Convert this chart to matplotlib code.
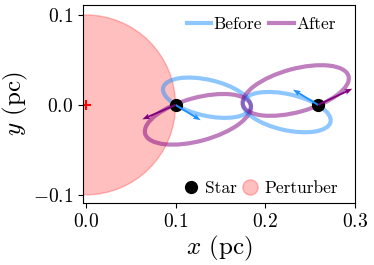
import matplotlib
matplotlib.use("Agg")
import matplotlib.pyplot as plt
from matplotlib.patches import Ellipse, Circle
from matplotlib.lines import Line2D

plt.rcParams['font.family'] = 'serif'
plt.rcParams['font.serif'] = ['cmr10']
plt.rcParams['mathtext.fontset'] = 'cm'
plt.rcParams['axes.formatter.use_mathtext'] = True

# star positions (pc)
star_x = [0.100, 0.259]
star_y = [0.0, 0.0]

# velocity arrows (pc, drawn as displacement)
vel_before_x = [0.028, -0.028]
vel_before_y = [-0.017, 0.017]
vel_after_x = [-0.037, 0.038]
vel_after_y = [-0.016, 0.018]

# orbits as ellipses: centre x, centre y, semi-major, semi-minor, angle (deg)
before_cx = [0.135, 0.224]
before_cy = [0.008, -0.008]
before_a = [0.050, 0.050]
before_b = [0.020, 0.020]
before_ang = [-12.7, -12.7]

after_cx = [0.125, 0.234]
after_cy = [-0.016, 0.016]
after_a = [0.061, 0.061]
after_b = [0.024, 0.024]
after_ang = [15.2, 15.2]

perturber_r = 0.1

c_before = '#1E90FF'
c_after = 'purple'

fig = plt.figure(figsize=(3.74, 2.65), dpi=100)
ax = fig.add_axes([0.221, 0.234, 0.728, 0.747])

ax.add_patch(Circle((0, 0), perturber_r, color='red', alpha=0.25, zorder=1))
ax.plot([0], [0], marker='+', color='red', ms=7, mew=1.5, zorder=2)

for i in range(2):
    ax.add_patch(Ellipse((before_cx[i], before_cy[i]), 2 * before_a[i], 2 * before_b[i],
                         angle=before_ang[i], fill=False, ec=c_before, lw=3, alpha=0.5, zorder=3))
    ax.add_patch(Ellipse((after_cx[i], after_cy[i]), 2 * after_a[i], 2 * after_b[i],
                         angle=after_ang[i], fill=False, ec=c_after, lw=3, alpha=0.5, zorder=3))

ax.plot(star_x, star_y, 'o', color='black', ms=8.5, zorder=4)

ax.quiver(star_x, star_y, vel_before_x, vel_before_y, color=c_before, angles='xy',
          scale_units='xy', scale=1, width=0.007, headwidth=3, headlength=4,
          headaxislength=3.5, zorder=5)
ax.quiver(star_x, star_y, vel_after_x, vel_after_y, color=c_after, angles='xy',
          scale_units='xy', scale=1, width=0.007, headwidth=3, headlength=4,
          headaxislength=3.5, zorder=5)

ax.set_xlim(-0.0035, 0.3)
ax.set_ylim(-0.109, 0.111)
ax.set_xticks([0.0, 0.1, 0.2, 0.3])
ax.set_yticks([-0.1, 0.0, 0.1])
ax.tick_params(labelsize=14, length=3.5)
ax.set_xlabel(r'$x$ (pc)', fontsize=18, labelpad=2)
ax.set_ylabel(r'$y$ (pc)', fontsize=18, labelpad=2)

h1 = [Line2D([], [], color=c_before, lw=3, alpha=0.5),
      Line2D([], [], color=c_after, lw=3, alpha=0.5)]
leg1 = ax.legend(h1, ['Before', 'After'], loc='center right', bbox_to_anchor=(0.955, 0.904),
                 ncol=2, frameon=False, fontsize=12.5, handlelength=1.4, handletextpad=0.15,
                 columnspacing=0.4, borderaxespad=0)
ax.add_artist(leg1)
h2 = [Line2D([], [], ls='', marker='o', color='black', ms=8.5),
      Line2D([], [], ls='', marker='o', color='red', alpha=0.25, ms=11)]
ax.legend(h2, ['Star', 'Perturber'], loc='center right', bbox_to_anchor=(0.963, 0.076),
          ncol=2, frameon=False, fontsize=12.5, handlelength=1.0, handletextpad=0.3,
          columnspacing=0.3, borderaxespad=0)

fig.savefig('out.png', dpi=100)
